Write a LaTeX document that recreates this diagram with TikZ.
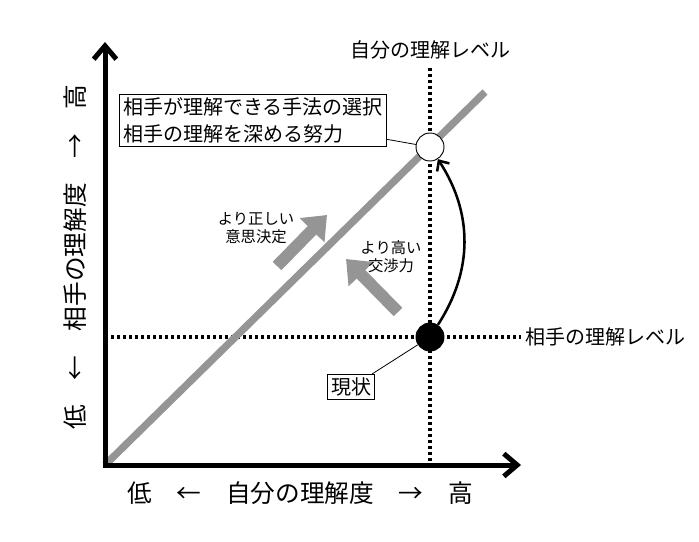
\documentclass[tikz,border=0pt]{standalone}
\usepackage{fontspec}
\setmainfont{Noto Sans CJK JP}
\usepackage{xcolor}
\definecolor{diaggray}{HTML}{959595}
\usepackage{tikz}
\usetikzlibrary{arrows.meta, positioning}

\begin{document}
\begin{tikzpicture}[
  x=0.75pt, y=-0.75pt,
  axis/.style={line width=3.75pt, {Straight Barb[length=10pt, width=17pt]}-{Straight Barb[length=10pt, width=17pt]}},
  dotline/.style={line width=2.6pt, dash pattern=on 2.3pt off 2.2pt},
  diag/.style={diaggray, line width=5.5pt},
  fat/.style={diaggray, line width=9pt, -{Triangle[length=16pt, width=25pt]}},
  curve/.style={line width=1.9pt, -{Straight Barb[length=6pt, width=11pt]}},
  dot/.style={circle, draw, line width=0.7pt, minimum size=21pt, inner sep=0pt},
  box/.style={draw, line width=0.7pt, align=left, inner sep=2.5pt},
  lbl/.style={font=\fontsize{15pt}{20pt}\selectfont},
  big/.style={font=\fontsize{18.5pt}{22pt}\selectfont},
  small/.style={font=\fontsize{11.5pt}{13.5pt}\selectfont, align=center}
]
  \useasboundingbox (0,0) rectangle (699,542);

  \coordinate (o)    at (105,465);
  \coordinate (ytip) at (105,42);
  \coordinate (xtip) at (521,465);
  \coordinate (dend) at (485,92);

  % reference lines
  \node[lbl] (mylevel) at (430,50) {自分の理解レベル};
  \node[lbl, anchor=west] (theirlevel) at (521,337) {相手の理解レベル};
  \coordinate (vtop) at (430,68);
  \draw[dotline] (vtop) -- (vtop |- o);
  \draw[dotline] (o |- theirlevel) -- (theirlevel.west);

  \draw[diag] (o) -- (dend);
  \draw[axis] (ytip) -- (o) -- (xtip);

  % axis titles
  \node[big] (xtitle) at (300,493) {低\quad ←\quad 自分の理解度\quad →\quad 高};
  \node[big, rotate=90] (ytitle) at (75,257) {低\quad ←\quad 相手の理解度\quad →\quad 高};

  % states
  \node[dot, fill=white] (goal) at (430,147) {};
  \node[dot, fill=black] (cur)  at (430,337) {};
  \draw[curve] (cur) to[bend right=33] (goal);

  \node[box, lbl] (method) at (253,120.5) {相手が理解できる手法の選択\\相手の理解を深める努力};
  \node[box, lbl] (status) at (351,387) {現状};
  \draw[line width=0.6pt] (method.-8) -- (goal);
  \draw[line width=0.6pt] ([xshift=-2pt]status.north east) -- (cur);

  % improvement arrows
  \coordinate (a1s) at (277,266);
  \coordinate (a1e) at (327,215);
  \coordinate (a2s) at (398,312);
  \coordinate (a2e) at (346,259);
  \draw[fat] (a1s) -- (a1e);
  \draw[fat] (a2s) -- (a2e);
  \node[small] (decide) at (256,228) {より正しい\\意思決定};
  \node[small] (nego)   at (391,257) {より高い\\交渉力};
\end{tikzpicture}
\end{document}
